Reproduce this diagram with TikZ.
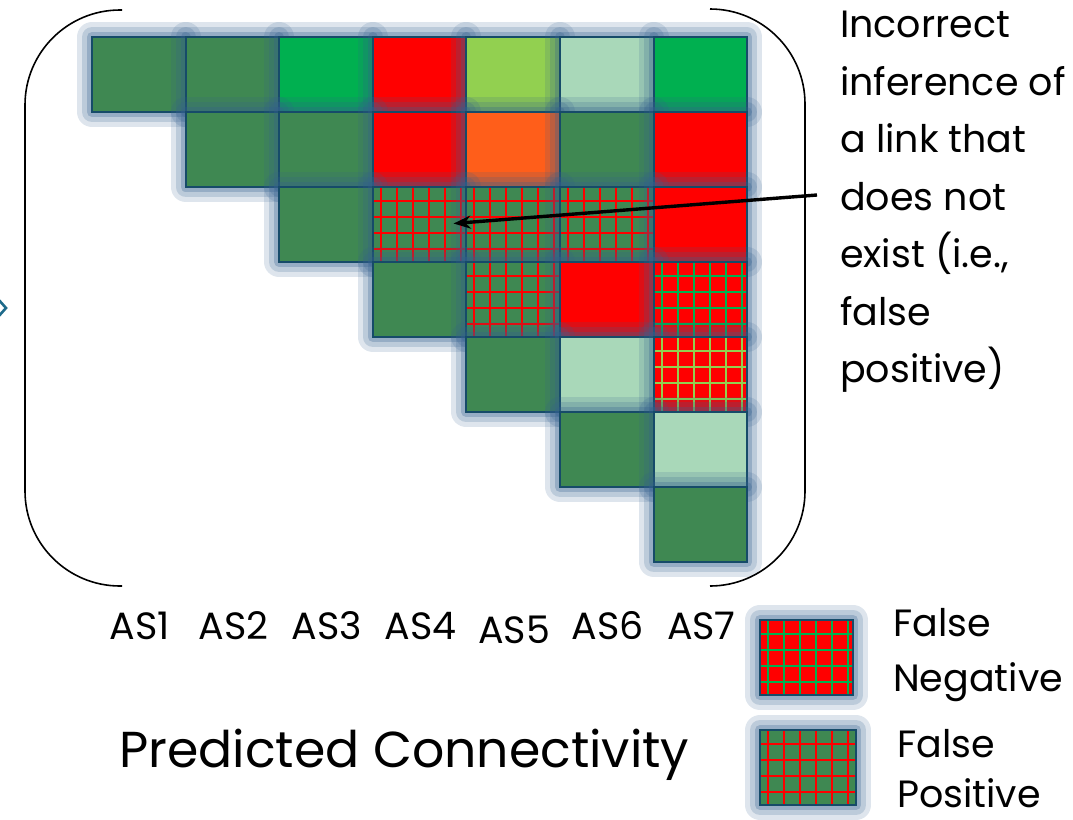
\documentclass[tikz,border=0pt]{standalone}
\usepackage{fontspec}
\setmainfont{Poppins}
\usetikzlibrary{arrows.meta,calc}
\definecolor{dkgreen}{HTML}{3F8852}
\definecolor{bgreen}{HTML}{00B050}
\definecolor{lgreen}{HTML}{92D050}
\definecolor{pale}{HTML}{A9D8B9}
\definecolor{hotred}{HTML}{FF0000}
\definecolor{orng}{HTML}{FF5E1A}
\definecolor{edgecol}{HTML}{164B69}
\definecolor{glowcol}{HTML}{34608E}
\definecolor{bullet}{HTML}{1E6A8A}
\tikzset{
  cell/.style={draw=edgecol, line width=2pt, minimum width=93.6pt, minimum height=75pt,
    inner sep=0pt, outer sep=0pt,
    preaction={draw=glowcol, line width=30pt, draw opacity=.16, line join=round},
    preaction={draw=glowcol, line width=20pt, draw opacity=.2, line join=round},
    preaction={draw=glowcol, line width=10pt, draw opacity=.28, line join=round}},
  gridded/.style={path picture={
    \foreach \gx in {8,24,40,56,72,88}
      \draw[draw=#1, line width=2.1pt]
        ([xshift=\gx pt]path picture bounding box.north west) --
        ([xshift=\gx pt]path picture bounding box.south west);
    \foreach \gy in {14,30,46,62}
      \draw[draw=#1, line width=2.1pt]
        ([yshift=-\gy pt]path picture bounding box.north west) --
        ([yshift=-\gy pt]path picture bounding box.north east);
  }},
  bigtext/.style={font=\fontsize{38}{57.5}\selectfont, text=black},
  bracket/.style={draw=black, line width=1.6pt, rounded corners=95pt},
}
\begin{document}
\begin{tikzpicture}[x=1pt, y=-1pt]
\useasboundingbox (0,0) rectangle (1073,819);

% upper-triangular connectivity matrix: row / column / fill / grid colour
\foreach \r/\c/\f/\h in {
  1/1/dkgreen/none, 1/2/dkgreen/none, 1/3/bgreen/none, 1/4/hotred/none,
  1/5/lgreen/none, 1/6/pale/none, 1/7/bgreen/none,
  2/2/dkgreen/none, 2/3/dkgreen/none, 2/4/hotred/none, 2/5/orng/none,
  2/6/dkgreen/none, 2/7/hotred/none,
  3/3/dkgreen/none, 3/4/dkgreen/hotred, 3/5/dkgreen/hotred, 3/6/dkgreen/hotred,
  3/7/hotred/none,
  4/4/dkgreen/none, 4/5/dkgreen/hotred, 4/6/hotred/none, 4/7/hotred/bgreen,
  5/5/dkgreen/none, 5/6/pale/none, 5/7/hotred/lgreen,
  6/6/dkgreen/none, 6/7/pale/none,
  7/7/dkgreen/none}
  \node[cell, fill=\f, gridded=\h] (c\r\c) at ({138.8+93.6*(\c-1)}, {74.5+75*(\r-1)}) {};

% column labels
\foreach \c in {1,...,7}
  \node[bigtext, anchor=base, inner sep=0pt] (as\c) at ({139.8+93.6*(\c-1)}, {\c==5 ? 643 : 639}) {AS\c};

% brackets around the matrix
\draw[bracket] (122,10) -| (25,586) -- (122,586);
\draw[bracket] (710,9) -| (805,586) -- (710,586);

% bullet at the left edge
\draw[bullet, line width=2.6pt, line join=miter] (-2,299) -- (6,308) -- (-2,317);

% annotation and its pointer
\node[bigtext, anchor=north west, align=left, inner sep=0pt] (note) at (840,11)
  {Incorrect\\inference of\\a link that\\does not\\exist (i.e.,\\false\\positive)};
\coordinate (tail) at (817,195);
\draw[line width=3.4pt, -{Stealth[length=17pt, width=13pt]}] (tail) -- ([xshift=34pt, yshift=1pt]c34.center);

% legend
\node[cell, fill=hotred, gridded=bgreen] (legfn) at (806.5,657.5) {};
\node[cell, fill=dkgreen, gridded=hotred, minimum width=96pt] (legfp) at (808,767.5) {};
\node[bigtext, anchor=north west, align=left, inner sep=0pt, font=\fontsize{38}{55}\selectfont] (fnlabel) at (893,608) {False\\Negative};
\node[bigtext, anchor=north west, align=left, inner sep=0pt, font=\fontsize{38}{50}\selectfont] (fplabel) at (897,729) {False\\Positive};

% caption
\node[anchor=base west, inner sep=0pt, font=\fontsize{50.5}{60}\selectfont] (caption) at (119,767) {Predicted Connectivity};
\end{tikzpicture}
\end{document}
